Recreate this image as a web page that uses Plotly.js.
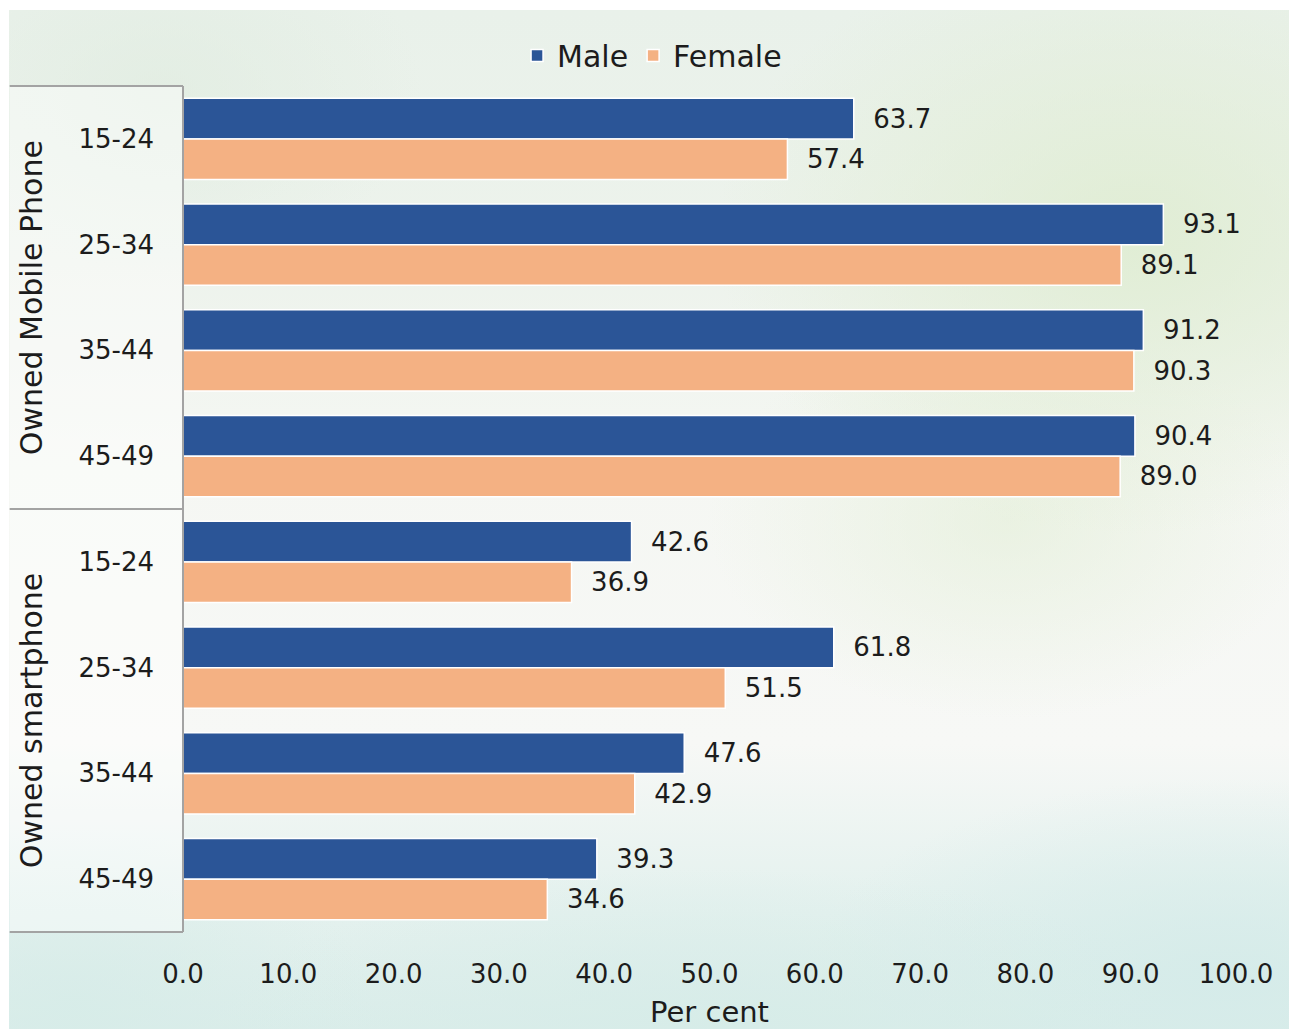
<!DOCTYPE html>
<html>
<head>
<meta charset="utf-8">
<script src="https://cdn.plot.ly/plotly-3.0.1.min.js"></script>
<style>
  html, body { margin: 0; padding: 0; background: #ffffff; }
  #wrap { position: relative; width: 1290px; height: 1029px; overflow: hidden; }
  #wash {
    position: absolute; left: 9px; top: 10px; width: 1280px; height: 1019px;
    background:
      radial-gradient(ellipse 420px 300px at 88% 22%, rgba(222,236,208,0.85), rgba(222,236,208,0) 100%),
      radial-gradient(ellipse 300px 200px at 78% 50%, rgba(226,238,214,0.6), rgba(226,238,214,0) 100%),
      radial-gradient(ellipse 260px 180px at 12% 8%, rgba(224,236,224,0.7), rgba(224,236,224,0) 100%),
      radial-gradient(ellipse 500px 160px at 55% 100%, rgba(214,236,232,0.9), rgba(214,236,232,0) 100%),
      radial-gradient(ellipse 420px 200px at 95% 95%, rgba(212,235,233,0.9), rgba(212,235,233,0) 100%),
      radial-gradient(ellipse 300px 180px at 5% 98%, rgba(214,236,232,0.8), rgba(214,236,232,0) 100%),
      linear-gradient(to bottom, #e9f1ea 0%, #edf3ec 25%, #f5f7f3 45%, #f7f8f6 72%, #e6f2ef 86%, #dbedea 100%);
  }
  #chart { position: absolute; left: 0; top: 0; width: 1290px; height: 1029px; }
</style>
</head>
<body>
<div id="wrap">
  <div id="wash"></div>
  <div id="chart"></div>
</div>
<script>
// Phone ownership by sex and age group
const groups = ["Owned Mobile Phone", "Owned smartphone"];
const ageGroups = ["15-24", "25-34", "35-44", "45-49"];
const seriesNames = ["Male", "Female"];
const maleValues = [63.7, 93.1, 91.2, 90.4, 42.6, 61.8, 47.6, 39.3];
const femaleValues = [57.4, 89.1, 90.3, 89.0, 36.9, 51.5, 42.9, 34.6];
const xTicks = [0, 10, 20, 30, 40, 50, 60, 70, 80, 90, 100];

const FONT = "'Century Gothic', 'DejaVu Sans', sans-serif";
const INK = "#1c1c1c";
const colors = { Male: "#2b5597", Female: "#f4b183" };

// one category per (group, age) pair; ticks show only the age
const catKeys = [];
const catText = [];
groups.forEach(g => ageGroups.forEach(a => { catKeys.push(g + " | " + a); catText.push(a); }));

function barTrace(name, values) {
  return {
    type: "bar",
    orientation: "h",
    name: name,
    x: values,
    y: catKeys,
    marker: { color: colors[name], line: { color: "#ffffff", width: 1.5 } },
    texttemplate: "\u2007%{x:.1f}",
    textposition: "outside",
    constraintext: "none",
    cliponaxis: false,
    textfont: { family: FONT, size: 26, color: INK },
    hoverinfo: "skip"
  };
}

const data = [barTrace(seriesNames[0], maleValues), barTrace(seriesNames[1], femaleValues)];

// left panel geometry (paper units relative to plot area)
const M = { l: 182.5, r: 53.5, t: 85.5, b: 97 };
const plotW = 1290 - M.l - M.r;
const boxLeft = (9 - M.l) / plotW;
const groupLabelX = (31 - M.l) / plotW;
const lineStyle = { color: "#a3a3a3", width: 2 };

const shapes = [
  { type: "rect", xref: "paper", yref: "paper", x0: boxLeft, x1: 0, y0: 0, y1: 1,
    fillcolor: "rgba(255,255,255,0.45)", line: { width: 0 }, layer: "below" },
  { type: "line", xref: "paper", yref: "paper", x0: boxLeft, x1: 0, y0: 1, y1: 1, line: lineStyle },
  { type: "line", xref: "paper", yref: "paper", x0: boxLeft, x1: 0, y0: 0.5, y1: 0.5, line: lineStyle },
  { type: "line", xref: "paper", yref: "paper", x0: boxLeft, x1: 0, y0: 0, y1: 0, line: lineStyle },
  { type: "line", xref: "paper", yref: "paper", x0: 0, x1: 0, y0: 0, y1: 1, line: lineStyle }
];

const annotations = groups.map((g, i) => ({
  xref: "paper", yref: "paper",
  x: groupLabelX, y: 1 - (i + 0.5) / groups.length,
  text: g, textangle: -90, showarrow: false,
  xanchor: "center", yanchor: "middle",
  font: { family: FONT, size: 30, color: INK }
}));

const layout = {
  width: 1290, height: 1029,
  margin: M,
  paper_bgcolor: "rgba(0,0,0,0)",
  plot_bgcolor: "rgba(0,0,0,0)",
  font: { family: FONT, color: INK },
  barmode: "group",
  bargap: 0.23,
  bargroupgap: 0,
  showlegend: true,
  legend: {
    orientation: "h", x: (652 - M.l) / plotW, xanchor: "center",
    y: 1.036, yanchor: "middle",
    font: { family: FONT, size: 30, color: INK },
    bgcolor: "rgba(0,0,0,0)", itemwidth: 30, traceorder: "normal"
  },
  xaxis: {
    range: [0, 100],
    tickvals: xTicks,
    tickformat: ".1f",
    showgrid: false, zeroline: false, showline: false,
    ticks: "", ticklabelstandoff: 24,
    tickfont: { family: FONT, size: 26, color: INK },
    title: { text: "Per cent", font: { family: FONT, size: 29, color: INK }, standoff: 14 }
  },
  yaxis: {
    type: "category",
    categoryorder: "array",
    categoryarray: catKeys,
    tickvals: catKeys,
    ticktext: catText,
    autorange: "reversed",
    showgrid: false, zeroline: false, showline: false,
    ticks: "", ticklabelstandoff: 28,
    tickfont: { family: FONT, size: 26, color: INK }
  },
  shapes: shapes,
  annotations: annotations
};

Plotly.newPlot("chart", data, layout, { displayModeBar: false, staticPlot: true });
</script>
</body>
</html>
